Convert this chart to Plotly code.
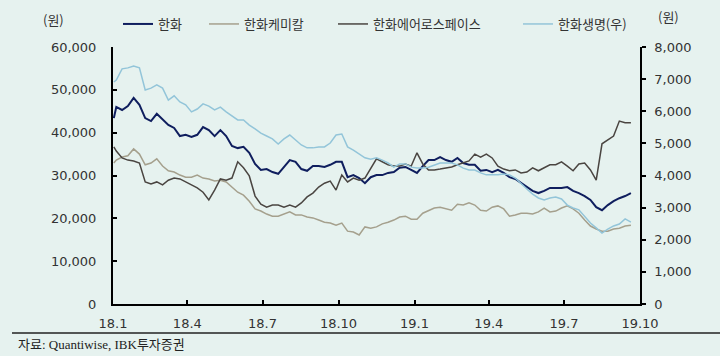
import pandas as pd
import plotly.graph_objects as go

# weekly observations (first trading day + Fridays)
dates = ["2018-01-02"] + [d.strftime("%Y-%m-%d") for d in pd.date_range("2018-01-05", "2019-09-20", freq="W-FRI")]

hanwha = [43400,
    46000, 45300, 46200, 48100, 46500, 43400, 42700, 44400, 43000, 41800,
    41100, 39200, 39500, 39000, 39500, 41300, 40600, 39200, 40600, 39200,
    36900, 36400, 36700, 35300, 32700, 31300, 31500, 30800, 30400, 32000,
    33600, 33200, 31500, 31100, 32200, 32200, 32000, 32500, 33200, 33200,
    29600, 30100, 29400, 28200, 29600, 30100, 30100, 30600, 30800, 31800,
    32000, 31300, 30600, 32200, 33600, 33600, 34300, 33600, 33200, 34100,
    32900, 32500, 32500, 31100, 31300, 30800, 31300, 30600, 29600, 29200,
    28200, 27300, 26400, 25900, 26400, 27100, 27100, 27100, 27300, 26400,
    25900, 25200, 24300, 22600, 21900, 23100, 24000, 24700, 25200, 25900]

hanwha_chem = [32900,
    33600, 34300, 34600, 36200, 35000, 32500, 32900, 33900, 32200, 31100,
    30800, 30100, 29600, 29600, 30100, 29400, 29200, 28700, 28900, 28500,
    27300, 26100, 25400, 24000, 22200, 21700, 21000, 20500, 20500, 21000,
    21500, 20800, 20800, 20300, 20100, 19600, 19100, 18900, 18400, 18900,
    17000, 16800, 16100, 18000, 17700, 18000, 18700, 19100, 19600, 20300,
    20500, 19800, 19800, 21200, 21900, 22400, 22600, 22200, 21900, 23300,
    23100, 23600, 23100, 21900, 21700, 22600, 22900, 22200, 20500, 20800,
    21200, 21200, 21000, 21500, 22400, 21500, 21700, 22400, 22900, 22200,
    21200, 19600, 18200, 17500, 17000, 17000, 17500, 17700, 18200, 18400]

hanwha_aero = [36700,
    35700, 34100, 33600, 33400, 32900, 28500, 28000, 28500, 27800, 28900,
    29400, 29200, 28500, 27800, 27100, 26100, 24300, 26600, 29200, 28900,
    29400, 33200, 31800, 29900, 25200, 23300, 22600, 23100, 23100, 22600,
    23100, 22600, 23600, 25000, 25900, 27300, 28200, 28700, 26600, 30100,
    28500, 29400, 28900, 29400, 31800, 33900, 33200, 32500, 32200, 32200,
    32700, 32200, 35300, 32700, 31300, 31300, 31500, 31800, 32000, 32500,
    32900, 33400, 35000, 34300, 35000, 34100, 32200, 31500, 31100, 31300,
    30600, 30800, 31800, 31100, 31800, 32500, 32500, 33200, 32200, 31100,
    32700, 32900, 31300, 28900, 37400, 38300, 39200, 42700, 42300, 42300]

hanwha_life = [6910,
    6970, 7320, 7350, 7410, 7350, 6660, 6720, 6820, 6720, 6350,
    6480, 6290, 6200, 5980, 6070, 6230, 6160, 6040, 6130, 5980,
    5850, 5730, 5730, 5570, 5450, 5320, 5230, 5140, 4980, 5140,
    5260, 5110, 4950, 4860, 4860, 4890, 4890, 5010, 5260, 5290,
    4890, 4790, 4670, 4550, 4510, 4550, 4480, 4390, 4260, 4360,
    4360, 4260, 4230, 4230, 4260, 4330, 4390, 4390, 4390, 4330,
    4230, 4170, 4170, 4080, 4020, 4020, 4020, 4050, 4020, 3920,
    3740, 3580, 3420, 3300, 3240, 3300, 3330, 3270, 3080, 2990,
    2930, 2740, 2520, 2370, 2210, 2330, 2430, 2490, 2650, 2550]

series_names = ["한화", "한화케미칼", "한화에어로스페이스", "한화생명(우)"]
x_tickvals = ["2018-01-01", "2018-04-01", "2018-07-01", "2018-10-01",
              "2019-01-01", "2019-04-01", "2019-07-01", "2019-10-01"]
x_ticktext = ["18.1", "18.4", "18.7", "18.10", "19.1", "19.4", "19.7", "19.10"]
left_ticks = [0, 10000, 20000, 30000, 40000, 50000, 60000]
right_ticks = [0, 1000, 2000, 3000, 4000, 5000, 6000, 7000, 8000]

BG = "#E6F2EF"
KFONT = "Noto Sans CJK KR"
NFONT = "DejaVu Sans"

fig = go.Figure()
fig.add_trace(go.Scatter(x=dates, y=hanwha, name=series_names[0], mode="lines", legend="legend",
                         line=dict(color="#0F1E5E", width=2)))
fig.add_trace(go.Scatter(x=dates, y=hanwha_chem, name=series_names[1], mode="lines", legend="legend2",
                         line=dict(color="#A5A08D", width=1.5)))
fig.add_trace(go.Scatter(x=dates, y=hanwha_aero, name=series_names[2], mode="lines", legend="legend3",
                         line=dict(color="#4A4541", width=1.5)))
fig.add_trace(go.Scatter(x=dates, y=hanwha_life, name=series_names[3], mode="lines", yaxis="y2",
                         legend="legend4", line=dict(color="#93C5D9", width=1.5)))


def legend_at(text_x):
    return dict(orientation="h", xref="container", yref="container",
                x=(text_x - 40) / 720, y=1 - 9 / 356, xanchor="left", yanchor="top",
                bgcolor="rgba(0,0,0,0)", font=dict(family=KFONT, size=13, color="#333333"))


fig.update_layout(
    width=720, height=356,
    paper_bgcolor=BG, plot_bgcolor=BG,
    margin=dict(l=113, r=80, t=47, b=52, autoexpand=False),
    showlegend=True,
    legend=legend_at(158), legend2=legend_at(244), legend3=legend_at(373), legend4=legend_at(558),
    xaxis=dict(type="date", range=["2018-01-01", "2019-10-01"],
               tickvals=x_tickvals, ticktext=x_ticktext,
               ticks="inside", ticklen=4, tickwidth=1.5, tickcolor="#000000",
               showline=True, linecolor="#000000", linewidth=2, showgrid=False, zeroline=False,
               tickfont=dict(family=NFONT, size=13, color="#333333"), ticklabelstandoff=6),
    yaxis=dict(range=[0, 60000], tickvals=left_ticks, tickformat=",",
               ticks="inside", ticklen=4, tickwidth=1.5, tickcolor="#000000",
               showline=True, linecolor="#000000", linewidth=2, showgrid=False, zeroline=False,
               tickfont=dict(family=NFONT, size=13, color="#333333"), ticklabelstandoff=12),
    yaxis2=dict(range=[0, 8000], tickvals=right_ticks, tickformat=",", overlaying="y", side="right",
                ticks="outside", ticklen=4, tickwidth=1.5, tickcolor="#000000",
                showline=True, linecolor="#000000", linewidth=1.5, showgrid=False, zeroline=False,
                tickfont=dict(family=NFONT, size=13, color="#333333"), ticklabelstandoff=6),
)

fig.add_annotation(text="(원)", xref="paper", yref="paper", x=(53 - 113) / 527, y=(304 - 20) / 257,
                   showarrow=False, xanchor="center", yanchor="middle",
                   font=dict(family=KFONT, size=13, color="#333333"))
fig.add_annotation(text="(원)", xref="paper", yref="paper", x=(668 - 113) / 527, y=(304 - 17) / 257,
                   showarrow=False, xanchor="center", yanchor="middle",
                   font=dict(family=KFONT, size=13, color="#333333"))
fig.add_annotation(text="자료: Quantiwise, IBK투자증권", xref="paper", yref="paper",
                   x=(16 - 113) / 527, y=(304 - 345) / 257, showarrow=False,
                   xanchor="left", yanchor="middle",
                   font=dict(family="Liberation Serif, " + KFONT, size=13, color="#222222"))
fig.add_shape(type="line", xref="paper", yref="paper",
              x0=(12 - 113) / 527, x1=(720 - 113) / 527, y0=(304 - 333) / 257, y1=(304 - 333) / 257,
              line=dict(color="#222222", width=1.5))

fig.write_html("out.html", config={"displayModeBar": False},
               post_script="document.body.style.margin='0';document.body.style.overflow='hidden';")
